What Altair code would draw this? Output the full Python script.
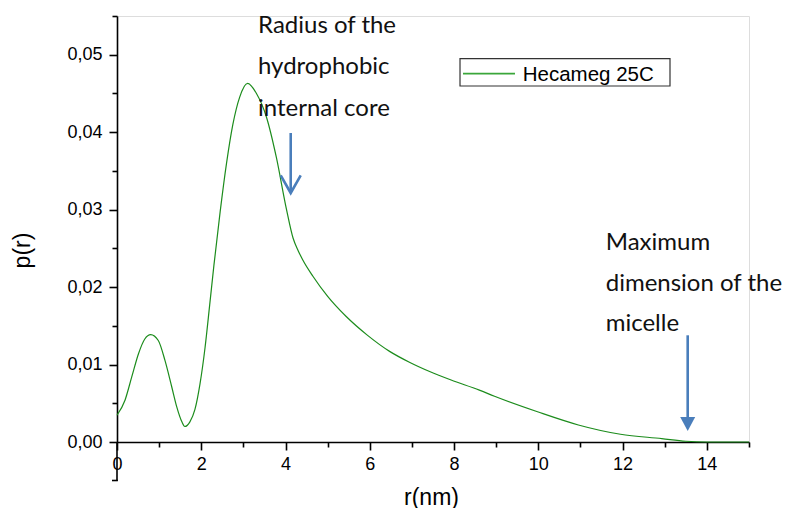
import altair as alt
import pandas as pd

# ---- data ----
r_nm = [0.0, 0.19, 0.35, 0.51, 0.66, 0.8, 0.98, 1.14, 1.3, 1.42, 1.54, 1.61,
        1.73, 1.85, 1.97, 2.09, 2.2, 2.3, 2.45, 2.6, 2.75, 2.91, 3.1, 3.31,
        3.55, 3.78, 4.02, 4.18, 4.3, 4.41, 4.65, 5.0, 5.44, 5.94, 6.47, 6.94,
        7.42, 7.93, 8.6, 8.96, 9.98, 10.95, 11.95, 12.93, 13.5, 14.0, 15.0]
p_r = [0.00345, 0.0054, 0.0084, 0.0114, 0.0133, 0.01386, 0.0131, 0.0105,
       0.0071, 0.0045, 0.0026, 0.0020, 0.0026, 0.0042, 0.0075, 0.0122, 0.0177,
       0.0228, 0.0298, 0.0360, 0.0410, 0.0445, 0.0463, 0.0450, 0.0419, 0.0368,
       0.0301, 0.0263, 0.0247, 0.0235, 0.0214, 0.0188, 0.0162, 0.0138, 0.0117,
       0.0103, 0.0091, 0.0080, 0.0067, 0.0059, 0.0039, 0.0022, 0.0010,
       0.00044, 0.0001, 0.0, 0.0]
series_name = "Hecameg 25C"

x_major = [0, 2, 4, 6, 8, 10, 12, 14]
x_minor = [1, 3, 5, 7, 9, 11, 13, 15]
y_major = [0.0, 0.01, 0.02, 0.03, 0.04, 0.05]
y_minor = [0.005, 0.015, 0.025, 0.035, 0.045, 0.055]

note1_lines = ["Radius of the", "hydrophobic", "internal core"]
note1_r = [3.347, 3.347, 3.347]
note1_p = [0.052857, 0.047473, 0.042141]
note2_lines = ["Maximum", "dimension of the", "micelle"]
note2_r = [11.599, 11.599, 11.599]
note2_p = [0.02475, 0.019457, 0.014293]

arrow1_r = [4.123]
arrow1_top = [0.039895]
arrow1_tip = [0.032148]
arrow2_r = [13.545]
arrow2_top = [0.013776]
arrow2_base = [0.00323]
arrow2_tip = [0.00142]

legend_box_r = [8.141]
legend_box_r2 = [13.125]
legend_box_p = [0.0495]
legend_box_p2 = [0.04596]
legend_line_r = [8.212]
legend_line_r2 = [9.446]
legend_p = [0.04756]
legend_text_r = [9.629]

# ---- chart ----
W, H = 632, 426
xs = alt.Scale(domain=[0, 15], nice=False, zero=False)
ys = alt.Scale(domain=[0, 0.055], nice=False, zero=False)
GREEN = "#1c8c1c"
BLUE = "#4a7ebb"
AX = dict(labelFont="Liberation Sans", labelFontSize=18, labelColor="black",
          titleFont="Liberation Sans", titleFontSize=23, titleColor="black",
          titleFontWeight="normal", domainColor="black", domainWidth=1.6,
          tickColor="black", tickWidth=1.6, grid=False, labelFlush=False,
          labelOverlap=False)

curve_df = pd.DataFrame({"r": r_nm, "p": p_r})

line = alt.Chart(curve_df).mark_line(color=GREEN, strokeWidth=1.2,
                                     interpolate="monotone").encode(
    x=alt.X("r:Q", scale=xs, axis=alt.Axis(
        title="r(nm)", values=x_major, tickSize=8, labelPadding=5,
        format="d", titleX=314, titleY=55, titleAnchor="middle",
        titleBaseline="middle", orient="bottom", **AX)),
    y=alt.Y("p:Q", scale=ys, axis=alt.Axis(
        title="p(r)", values=y_major, tickSize=8, labelPadding=7,
        labelExpr="replace(format(datum.value, '.2f'), '.', ',')",
        titleX=-95, titleY=234, titleAngle=-90, titleBaseline="middle",
        titleAlign="center", orient="left", **AX)),
)

# minor tick axes (no labels)
minor_df = pd.DataFrame({"r": [0.0], "p": [0.0]})
minor = alt.Chart(minor_df).mark_point(opacity=0).encode(
    x=alt.X("r:Q", scale=xs, axis=alt.Axis(
        title=None, values=x_minor, tickSize=5, labels=False, domain=False,
        orient="bottom", tickColor="black", tickWidth=1.6, grid=False)),
    y=alt.Y("p:Q", scale=ys, axis=alt.Axis(
        title=None, values=y_minor, tickSize=5, labels=False, domain=False,
        orient="left", tickColor="black", tickWidth=1.6, grid=False)),
)

# y-axis line extension below the x-axis (as in the original figure)
ext = alt.Chart(minor_df).mark_rule(color="black", strokeWidth=1.6).encode(
    x=alt.value(0), y=alt.value(H), y2=alt.value(H + 39))
ext_stub = alt.Chart(minor_df).mark_rule(color="black", strokeWidth=1.6).encode(
    x=alt.value(-5), x2=alt.value(0.8), y=alt.value(H + 38.5))

NX = dict(scale=xs, axis=None)
NY = dict(scale=ys, axis=None)

# annotations
notes_df = pd.DataFrame({"r": note1_r + note2_r, "p": note1_p + note2_p,
                         "t": note1_lines + note2_lines})
notes = alt.Chart(notes_df).mark_text(
    align="left", baseline="alphabetic", font="Lato", fontSize=24,
    color="#111111").encode(
    x=alt.X("r:Q", **NX), y=alt.Y("p:Q", **NY), text="t:N")

a1_df = pd.DataFrame({"r": arrow1_r, "top": arrow1_top, "tip": arrow1_tip})
a1_line = alt.Chart(a1_df).mark_rule(color=BLUE, strokeWidth=2.6).encode(
    x=alt.X("r:Q", **NX), y=alt.Y("top:Q", **NY), y2="tip:Q")
a1_head = alt.Chart(a1_df).mark_point(
    shape="M-1,-1.77L0,0L1,-1.77", size=400, filled=False, color=BLUE,
    strokeWidth=2.6, opacity=1).encode(
    x=alt.X("r:Q", **NX), y=alt.Y("tip:Q", **NY))

a2_df = pd.DataFrame({"r": arrow2_r, "top": arrow2_top, "base": arrow2_base,
                      "tip": arrow2_tip})
a2_line = alt.Chart(a2_df).mark_rule(color=BLUE, strokeWidth=2.6).encode(
    x=alt.X("r:Q", **NX), y=alt.Y("top:Q", **NY), y2="base:Q")
a2_head = alt.Chart(a2_df).mark_point(
    shape="M-1,-1.87L1,-1.87L0,0Z", size=225, filled=True, color=BLUE,
    opacity=1, strokeWidth=0).encode(
    x=alt.X("r:Q", **NX), y=alt.Y("tip:Q", **NY))

# legend
lg_df = pd.DataFrame({"r": legend_box_r, "r2": legend_box_r2,
                      "p": legend_box_p, "p2": legend_box_p2,
                      "lr": legend_line_r, "lr2": legend_line_r2,
                      "lp": legend_p, "tr": legend_text_r,
                      "name": [series_name]})
lg_box = alt.Chart(lg_df).mark_rect(fill="white", stroke="#333333",
                                    strokeWidth=1.2).encode(
    x=alt.X("r:Q", **NX), x2="r2:Q", y=alt.Y("p:Q", **NY), y2="p2:Q")
lg_line = alt.Chart(lg_df).mark_rule(color="#3aa63a", strokeWidth=1.6).encode(
    x=alt.X("lr:Q", **NX), x2="lr2:Q", y=alt.Y("lp:Q", **NY))
lg_text = alt.Chart(lg_df).mark_text(
    align="left", baseline="middle", font="Liberation Sans", fontSize=20.5,
    color="black", dy=1).encode(
    x=alt.X("tr:Q", **NX), y=alt.Y("lp:Q", **NY), text="name:N")

chart = alt.layer(
    minor, line, ext, ext_stub, notes, a1_line, a1_head, a2_line, a2_head,
    lg_box, lg_line, lg_text
).resolve_axis(x="independent", y="independent").properties(
    width=W, height=H,
    autosize=alt.AutoSizeParams(type="none"),
    padding={"left": 109, "top": 8, "right": 37, "bottom": 66},
).configure_view(stroke=None).configure(background="white")

chart.save("out.html", embed_options={"renderer": "svg", "actions": False})
